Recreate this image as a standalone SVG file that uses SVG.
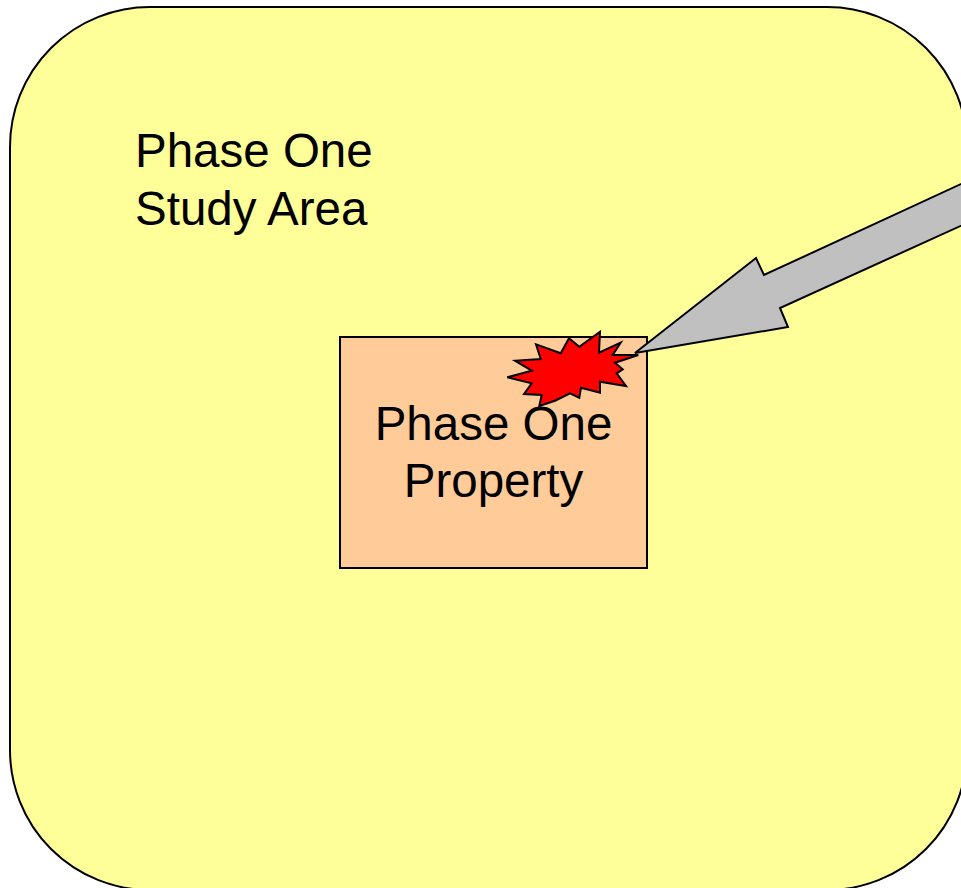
<svg xmlns="http://www.w3.org/2000/svg" width="961" height="888" viewBox="0 0 961 888">
  <style>
    .outline { stroke: #000; stroke-width: 2; stroke-linejoin: miter; }
    .label { font-family: "Liberation Sans", Arial, sans-serif; font-size: 47.5px; fill: #000; }
  </style>
  <rect width="961" height="888" fill="#fff"/>

  <!-- Study area: large rounded region -->
  <g id="study-area">
    <rect class="outline" x="10" y="7" width="957" height="883" rx="140" ry="140" fill="#FFFF99"/>
    <text class="label" x="135" y="167">Phase One</text>
    <text class="label" x="135" y="225">Study Area</text>
  </g>

  <!-- Property parcel -->
  <g id="property">
    <rect class="outline" x="340" y="337" width="307" height="231" fill="#FFCC99"/>
    <text class="label" x="493.5" y="440" text-anchor="middle">Phase One</text>
    <text class="label" x="493.5" y="497" text-anchor="middle">Property</text>
  </g>

  <!-- Impact burst on the property corner -->
  <g id="burst">
    <polygon class="outline" fill="#FF0000" points="600,331.7 599,352.7 620.7,342.7 612.7,355 638.3,355 615,362.7 622.7,369.3 616.7,373.3 626,386 600,381.7 600,392.7 581,387.7 579.3,397.7 570,393.3 555,400.7 539.3,406 541.7,395 524,394 531.7,383.3 507.3,377.3 531.7,370.7 515,360.7 540.7,359 536,344.3 560.7,353.3 569,338.3 579.3,346.7"/>
  </g>

  <!-- Block arrow pointing at the burst -->
  <g id="connectors">
    <polygon class="outline" fill="#C0C0C0" points="635,353 756,258 764,275 1000,166 1000,208 780,308 788,327"/>
  </g>
</svg>
